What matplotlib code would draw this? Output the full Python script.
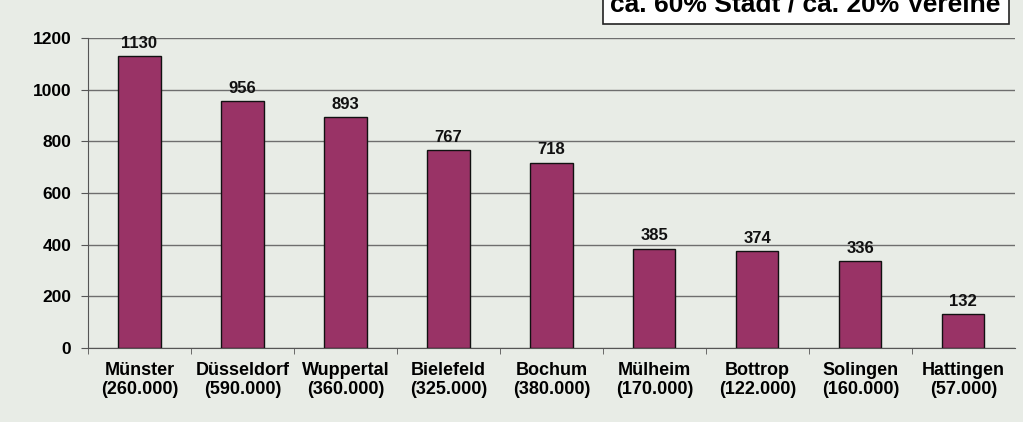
import matplotlib.pyplot as plt

cities = ['Münster', 'Düsseldorf', 'Wuppertal', 'Bielefeld', 'Bochum',
          'Mülheim', 'Bottrop', 'Solingen', 'Hattingen']
population = ['260.000', '590.000', '360.000', '325.000', '380.000',
              '170.000', '122.000', '160.000', '57.000']
values = [1130, 956, 893, 767, 718, 385, 374, 336, 132]

bg = '#e8ece6'
plt.rcParams['font.family'] = ['Liberation Sans', 'DejaVu Sans']

fig = plt.figure(figsize=(10.23, 4.22), dpi=100, facecolor=bg)
ax = fig.add_axes([0.086, 0.175, 0.906, 0.735], facecolor=bg)

x = list(range(len(cities)))
ax.bar(x, values, width=0.41, color='#993366', edgecolor='#111111', linewidth=1, zorder=3)

for xi, v in zip(x, values):
    ax.text(xi, v + 20, str(v), ha='center', va='bottom', fontsize=12,
            fontweight='bold', color='#111111', zorder=4)

ax.set_xlim(-0.5, len(cities) - 0.5)
ax.set_ylim(0, 1200)
ax.set_yticks(range(0, 1201, 200))
ax.yaxis.grid(True, color='#6e6e6e', linewidth=1, zorder=0)
ax.set_axisbelow(True)

ax.set_xticks(x)
ax.set_xticklabels([f'{c}\n({p})' for c, p in zip(cities, population)],
                   fontsize=13, fontweight='bold', linespacing=1.15)
ax.tick_params(axis='x', length=0, pad=10)
ax.set_xticks([i + 0.5 for i in x[:-1]] + [-0.5], minor=True)
ax.tick_params(axis='x', which='minor', length=4, color='#555555', direction='out')
ax.tick_params(axis='y', length=5, color='#555555', labelsize=12.5, pad=7)
for lbl in ax.get_yticklabels():
    lbl.set_fontweight('bold')

for s in ['top', 'right']:
    ax.spines[s].set_visible(False)
ax.spines['left'].set_color('#555555')
ax.spines['bottom'].set_color('#555555')

fig.text(0.7875, 0.99, 'ca. 60% Stadt / ca. 20% Vereine', ha='center', va='center',
         fontsize=19, fontweight='bold', color='#000000',
         bbox=dict(boxstyle='square,pad=0.3', fc='white', ec='#222222', lw=1.2))

fig.savefig('out.png', dpi=100, facecolor=bg)
